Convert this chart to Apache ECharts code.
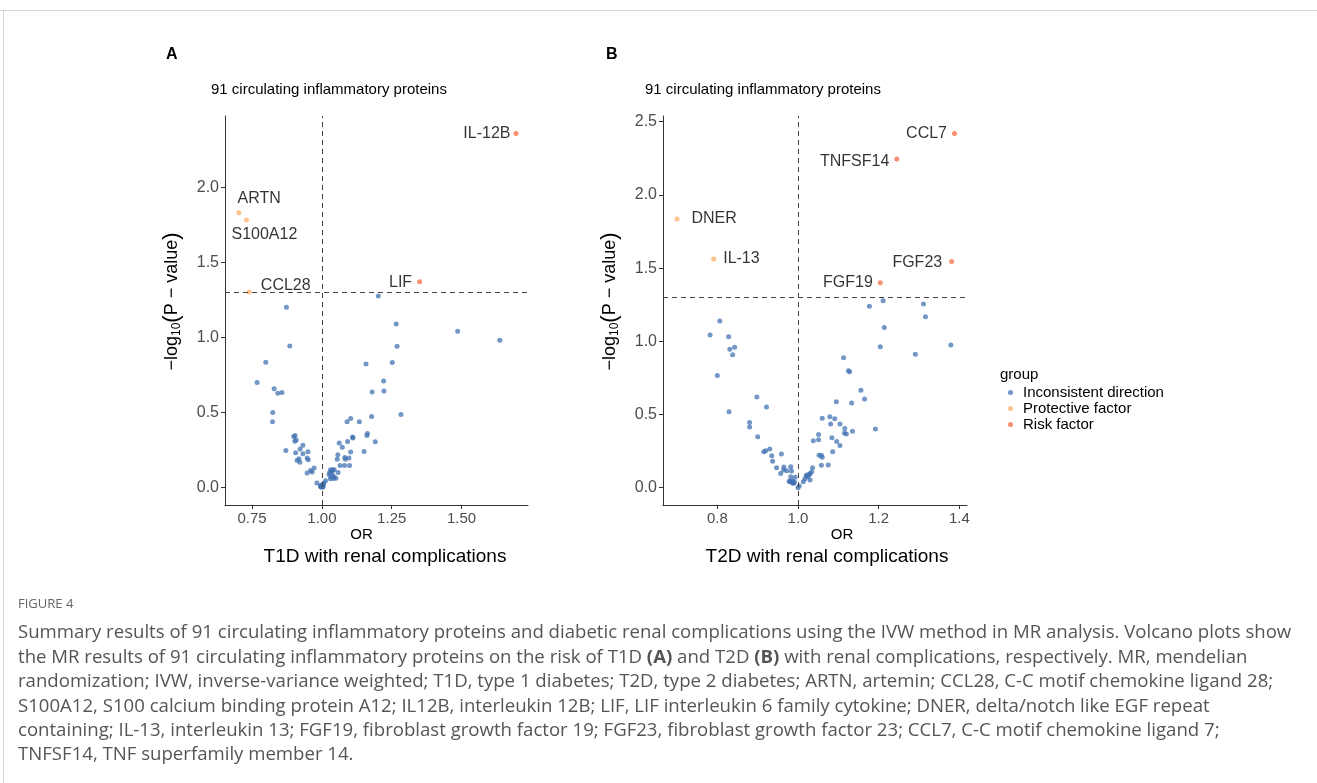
<!DOCTYPE html>
<html><head><meta charset="utf-8">
<script src="https://cdn.jsdelivr.net/npm/echarts@6/dist/echarts.min.js"></script>
<style>html,body{margin:0;padding:0;background:#fff;}#c{width:1317px;height:783px;}</style>
</head><body><div id="c"></div>
<script>
// ---------- DATA ----------
const groups = ['Inconsistent direction', 'Protective factor', 'Risk factor'];

// Panel A: T1D with renal complications
const t1dLabelNames = ['IL-12B', 'ARTN', 'S100A12', 'CCL28', 'LIF'];
const t1dLabelOR    = [1.695, 0.7025, 0.730, 0.7395, 1.350];
const t1dLabelLogP  = [2.362, 1.833, 1.784, 1.304, 1.373];
const t1dLabelGroup = ['Risk factor', 'Protective factor', 'Protective factor', 'Protective factor', 'Risk factor'];
const t1dOtherOR = [
  0.873,0.885,0.799,0.768,0.829,0.842,0.857,0.824,0.823,
  0.899,0.904,0.903,0.908,0.932,0.871,0.922,0.906,0.950,0.932,0.918,0.911,0.921,0.947,0.951,0.972,0.959,0.947,0.965,0.982,
  0.999,0.996,1.003,1.005,1.007,1.013,0.998,1.001,0.997,1.002,1.004,0.995,
  1.031,1.039,1.044,1.026,1.037,1.044,1.030,1.050,1.058,1.033,1.028,1.035,1.041,
  1.055,1.057,1.065,1.081,1.099,1.084,1.082,1.097,1.103,1.073,1.062,1.092,1.110,1.111,1.134,1.090,1.103,1.151,1.161,1.163,1.178,1.191,1.180,
  1.202,1.266,1.486,1.637,1.269,1.158,1.252,1.221,1.222,1.283
];
const t1dOtherLogP = [
  1.202,0.944,0.836,0.700,0.658,0.629,0.633,0.500,0.438,
  0.340,0.347,0.309,0.316,0.282,0.247,0.256,0.231,0.238,0.225,0.191,0.180,0.169,0.196,0.185,0.129,0.113,0.096,0.103,0.029,
  0.011,0.003,0.002,0.020,0.030,0.045,0.005,0.008,0.014,0.016,0.006,0.009,
  0.118,0.118,0.118,0.087,0.088,0.070,0.058,0.062,0.100,0.075,0.100,0.110,0.060,
  0.189,0.218,0.147,0.147,0.147,0.189,0.200,0.196,0.236,0.269,0.296,0.307,0.336,0.330,0.438,0.438,0.460,0.240,0.347,0.360,0.473,0.305,0.636,
  1.278,1.091,1.042,0.982,0.942,0.824,0.833,0.711,0.644,0.487
];

// Panel B: T2D with renal complications
const t2dLabelNames = ['CCL7', 'TNFSF14', 'DNER', 'IL-13', 'FGF23', 'FGF19'];
const t2dLabelOR    = [1.388, 1.245, 0.700, 0.791, 1.381, 1.204];
const t2dLabelLogP  = [2.420, 2.245, 1.835, 1.562, 1.546, 1.400];
const t2dLabelGroup = ['Risk factor', 'Risk factor', 'Protective factor', 'Protective factor', 'Risk factor', 'Risk factor'];
const t2dOtherOR = [
  1.211,1.177,1.311,1.316,1.214,1.204,1.379,1.291,1.113,1.125,1.128,1.156,1.165,1.095,1.133,1.192,1.135,
  0.806,0.782,0.828,0.831,0.843,0.838,0.800,0.829,0.898,0.922,0.880,0.880,0.900,
  0.915,0.920,0.930,0.935,0.937,0.959,0.947,0.957,0.964,0.965,0.972,0.982,0.984,0.982,0.980,0.987,0.991,0.993,0.984,0.988,1.000,1.003,0.986,0.990,0.978,
  1.013,1.017,1.022,1.025,1.028,1.030,1.034,1.030,1.036,1.038,1.051,1.051,1.052,1.058,1.060,1.058,1.075,1.060,1.079,1.081,1.091,1.084,1.096,1.086,1.104,1.104,1.116,1.115,1.120,1.020
];
const t2dOtherLogP = [
  1.277,1.239,1.255,1.168,1.095,0.963,0.975,0.911,0.888,0.799,0.792,0.665,0.606,0.587,0.578,0.401,0.385,
  1.138,1.043,1.031,0.945,0.959,0.908,0.767,0.519,0.619,0.551,0.446,0.414,0.348,
  0.246,0.253,0.264,0.219,0.180,0.230,0.137,0.098,0.121,0.141,0.116,0.143,0.114,0.075,0.041,0.030,0.041,0.071,0.048,0.034,0.000,0.011,0.040,0.032,0.044,
  0.041,0.059,0.087,0.075,0.090,0.098,0.109,0.052,0.137,0.321,0.328,0.364,0.221,0.221,0.209,0.153,0.155,0.474,0.485,0.435,0.471,0.342,0.316,0.246,0.289,0.435,0.405,0.373,0.367,0.080
];

const t1dXTicks = [0.75, 1.00, 1.25, 1.50];
const t2dXTicks = [0.8, 1.0, 1.2, 1.4];
const t1dYTicks = [0, 0.5, 1, 1.5, 2];
const t2dYTicks = [0, 0.5, 1, 1.5, 2, 2.5];
const thresholdLogP = 1.30103; // -log10(0.05)

// ---------- STYLE ----------
const FONT = '"Liberation Sans", Arial, sans-serif';
const groupColors = {
  'Inconsistent direction': 'rgba(64,112,178,0.92)',
  'Protective factor': 'rgba(253,174,97,0.92)',
  'Risk factor': 'rgba(244,109,67,0.95)'
};
const labelPlacement = {
  'IL-12B':  {position: 'left',  distance: 3, offset: [0, 0]},
  'ARTN':    {position: 'right', distance: 0, offset: [-3.8, -13.7]},
  'S100A12': {position: 'right', distance: 0, offset: [-17.5, 14.2]},
  'CCL28':   {position: 'right', distance: 0, offset: [9.2, -6.4]},
  'LIF':     {position: 'left',  distance: 5, offset: [0, 1]},
  'CCL7':    {position: 'left',  distance: 5, offset: [0, 0]},
  'TNFSF14': {position: 'left',  distance: 5, offset: [0, 3]},
  'DNER':    {position: 'right', distance: 12, offset: [0, 0]},
  'IL-13':   {position: 'right', distance: 7, offset: [0, 0]},
  'FGF23':   {position: 'left',  distance: 7, offset: [0, 1]},
  'FGF19':   {position: 'left',  distance: 5, offset: [0, 0]}
};

function buildSeries(idx, names, ors, logps, grps, otherOR, otherLogP) {
  return groups.map(function (g) {
    let data = [];
    if (g === 'Inconsistent direction') {
      data = otherOR.map(function (x, i) { return [x, otherLogP[i]]; });
    } else {
      names.forEach(function (n, i) {
        if (grps[i] !== g) return;
        const p = labelPlacement[n];
        data.push({
          name: n, value: [ors[i], logps[i]],
          label: {show: true, formatter: '{b}', position: p.position, distance: p.distance, offset: p.offset,
                  fontSize: 16, color: '#000', fontFamily: FONT}
        });
      });
    }
    const s = {
      name: g, type: 'scatter', xAxisIndex: idx, yAxisIndex: idx,
      symbol: 'circle', symbolSize: 5, data: data,
      itemStyle: {color: groupColors[g]},
      emphasis: {disabled: true}, animation: false, z: g === 'Inconsistent direction' ? 2 : 3
    };
    if (g === 'Inconsistent direction') {
      s.markLine = {
        silent: true, symbol: ['none', 'none'], animation: false,
        label: {show: false},
        lineStyle: {type: [5, 4], color: '#444', width: 1},
        data: [{xAxis: 1}, {yAxis: thresholdLogP}]
      };
    }
    return s;
  });
}

function xAxisCfg(idx, min, max, ticks, dec, nameShift) {
  return {
    type: 'value', gridIndex: idx, min: min, max: max,
    splitLine: {show: false},
    axisLine: {show: true, onZero: false, lineStyle: {color: '#333', width: 1}},
    axisTick: {show: true, length: 4, customValues: ticks, lineStyle: {color: '#333'}},
    axisLabel: {customValues: ticks, formatter: function (v) { return v.toFixed(dec); },
                color: '#4d4d4d', fontSize: 15, fontFamily: FONT, margin: 6},
    name: 'OR', nameLocation: 'middle', nameGap: 21,
    nameTextStyle: {color: '#000', fontSize: 15, fontFamily: FONT,
                    padding: nameShift < 0 ? [0, -2 * nameShift, 0, 0] : [0, 0, 0, 2 * nameShift]}
  };
}
function yAxisCfg(idx, min, max, ticks) {
  return {
    type: 'value', gridIndex: idx, min: min, max: max,
    splitLine: {show: false},
    axisLine: {show: true, onZero: false, lineStyle: {color: '#333', width: 1}},
    axisTick: {show: true, length: 4, customValues: ticks, lineStyle: {color: '#333'}},
    axisLabel: {customValues: ticks, formatter: function (v) { return v.toFixed(1); },
                color: '#4d4d4d', fontSize: 16, fontFamily: FONT, margin: 6},
    name: '{a|−log}{s|10}{p|(}{a|P − value}{p|)}', nameLocation: 'middle', nameRotate: 90, nameGap: 42,
    nameTextStyle: {
      padding: [0, 0, 0, 18],
      rich: {
        a: {fontSize: 18, fontFamily: FONT, color: '#000', lineHeight: 22, verticalAlign: 'middle'},
        s: {fontSize: 12, fontFamily: FONT, color: '#000', lineHeight: 12, verticalAlign: 'bottom'},
        p: {fontSize: 22, fontFamily: FONT, color: '#000', lineHeight: 22, verticalAlign: 'middle'}
      }
    }
  };
}

function txt(x, y, text, opts) {
  return {type: 'text', x: x, y: y, silent: true,
    style: Object.assign({text: text, fontFamily: FONT, fontSize: 15, fill: '#000', align: 'left', verticalAlign: 'middle'}, opts || {})};
}

const CAP = '"Open Sans", "Liberation Sans", sans-serif';
const capRich = {
  n: {fontFamily: CAP, fontSize: 18.6, fill: '#555', color: '#555'},
  b: {fontFamily: CAP, fontSize: 18.6, fontWeight: 'bold', fill: '#555', color: '#555'}
};
const captionLines = [
  '{n|Summary results of 91 circulating inflammatory proteins and diabetic renal complications using the IVW method in MR analysis. Volcano plots show}',
  '{n|the MR results of 91 circulating inflammatory proteins on the risk of T1D }{b|(A)}{n| and T2D }{b|(B)}{n| with renal complications, respectively. MR, mendelian}',
  '{n|randomization; IVW, inverse-variance weighted; T1D, type 1 diabetes; T2D, type 2 diabetes; ARTN, artemin; CCL28, C-C motif chemokine ligand 28;}',
  '{n|S100A12, S100 calcium binding protein A12; IL12B, interleukin 12B; LIF, LIF interleukin 6 family cytokine; DNER, delta/notch like EGF repeat}',
  '{n|containing; IL-13, interleukin 13; FGF19, fibroblast growth factor 19; FGF23, fibroblast growth factor 23; CCL7, C-C motif chemokine ligand 7;}',
  '{n|TNFSF14, TNF superfamily member 14.}'
];
const captionY = [633, 657.5, 682, 706.5, 731, 755];

const graphics = [
  {type: 'line', silent: true, shape: {x1: 0, y1: 10.5, x2: 1317, y2: 10.5}, style: {stroke: '#d6d6d6', lineWidth: 1}},
  {type: 'line', silent: true, shape: {x1: 3.5, y1: 10.5, x2: 3.5, y2: 783}, style: {stroke: '#d6d6d6', lineWidth: 1}},
  txt(166, 55, 'A', {fontWeight: 'bold', fontSize: 16}),
  txt(606, 55, 'B', {fontWeight: 'bold', fontSize: 16}),
  txt(211, 90, '91 circulating inflammatory proteins'),
  txt(645, 90, '91 circulating inflammatory proteins'),
  txt(385, 557, 'T1D with renal complications', {fontSize: 19, align: 'center'}),
  txt(827, 557, 'T2D with renal complications', {fontSize: 19, align: 'center'}),
  txt(1000, 375, 'group'),
  txt(18, 604, 'FIGURE 4', {fontFamily: CAP, fontSize: 13, fill: '#666'})
];
captionLines.forEach(function (l, i) {
  graphics.push({type: 'text', x: 18, y: captionY[i], silent: true,
    style: {text: l, rich: capRich, verticalAlign: 'middle', align: 'left', fill: '#555'}});
});

const chart = echarts.init(document.getElementById('c'), null, {renderer: 'canvas'});
chart.setOption({
  backgroundColor: '#fff',
  animation: false,
  grid: [
    {left: 225, top: 116, width: 303, height: 389},
    {left: 663, top: 116, width: 304, height: 389}
  ],
  xAxis: [
    xAxisCfg(0, 0.653, 1.738, t1dXTicks, 2, -15),
    xAxisCfg(1, 0.6653, 1.419, t2dXTicks, 1, 27)
  ],
  yAxis: [
    yAxisCfg(0, -0.117, 2.478, t1dYTicks),
    yAxisCfg(1, -0.118, 2.539, t2dYTicks)
  ],
  legend: {
    data: groups, orient: 'vertical', left: 1003, top: 380,
    icon: 'circle', itemWidth: 5, itemHeight: 5, itemGap: 1,
    textStyle: {fontFamily: FONT, fontSize: 15, color: '#000', padding: [0, 0, 0, 5]},
    selectedMode: false
  },
  series: buildSeries(0, t1dLabelNames, t1dLabelOR, t1dLabelLogP, t1dLabelGroup, t1dOtherOR, t1dOtherLogP)
    .concat(buildSeries(1, t2dLabelNames, t2dLabelOR, t2dLabelLogP, t2dLabelGroup, t2dOtherOR, t2dOtherLogP)),
  graphic: graphics
});
</script></body></html>
